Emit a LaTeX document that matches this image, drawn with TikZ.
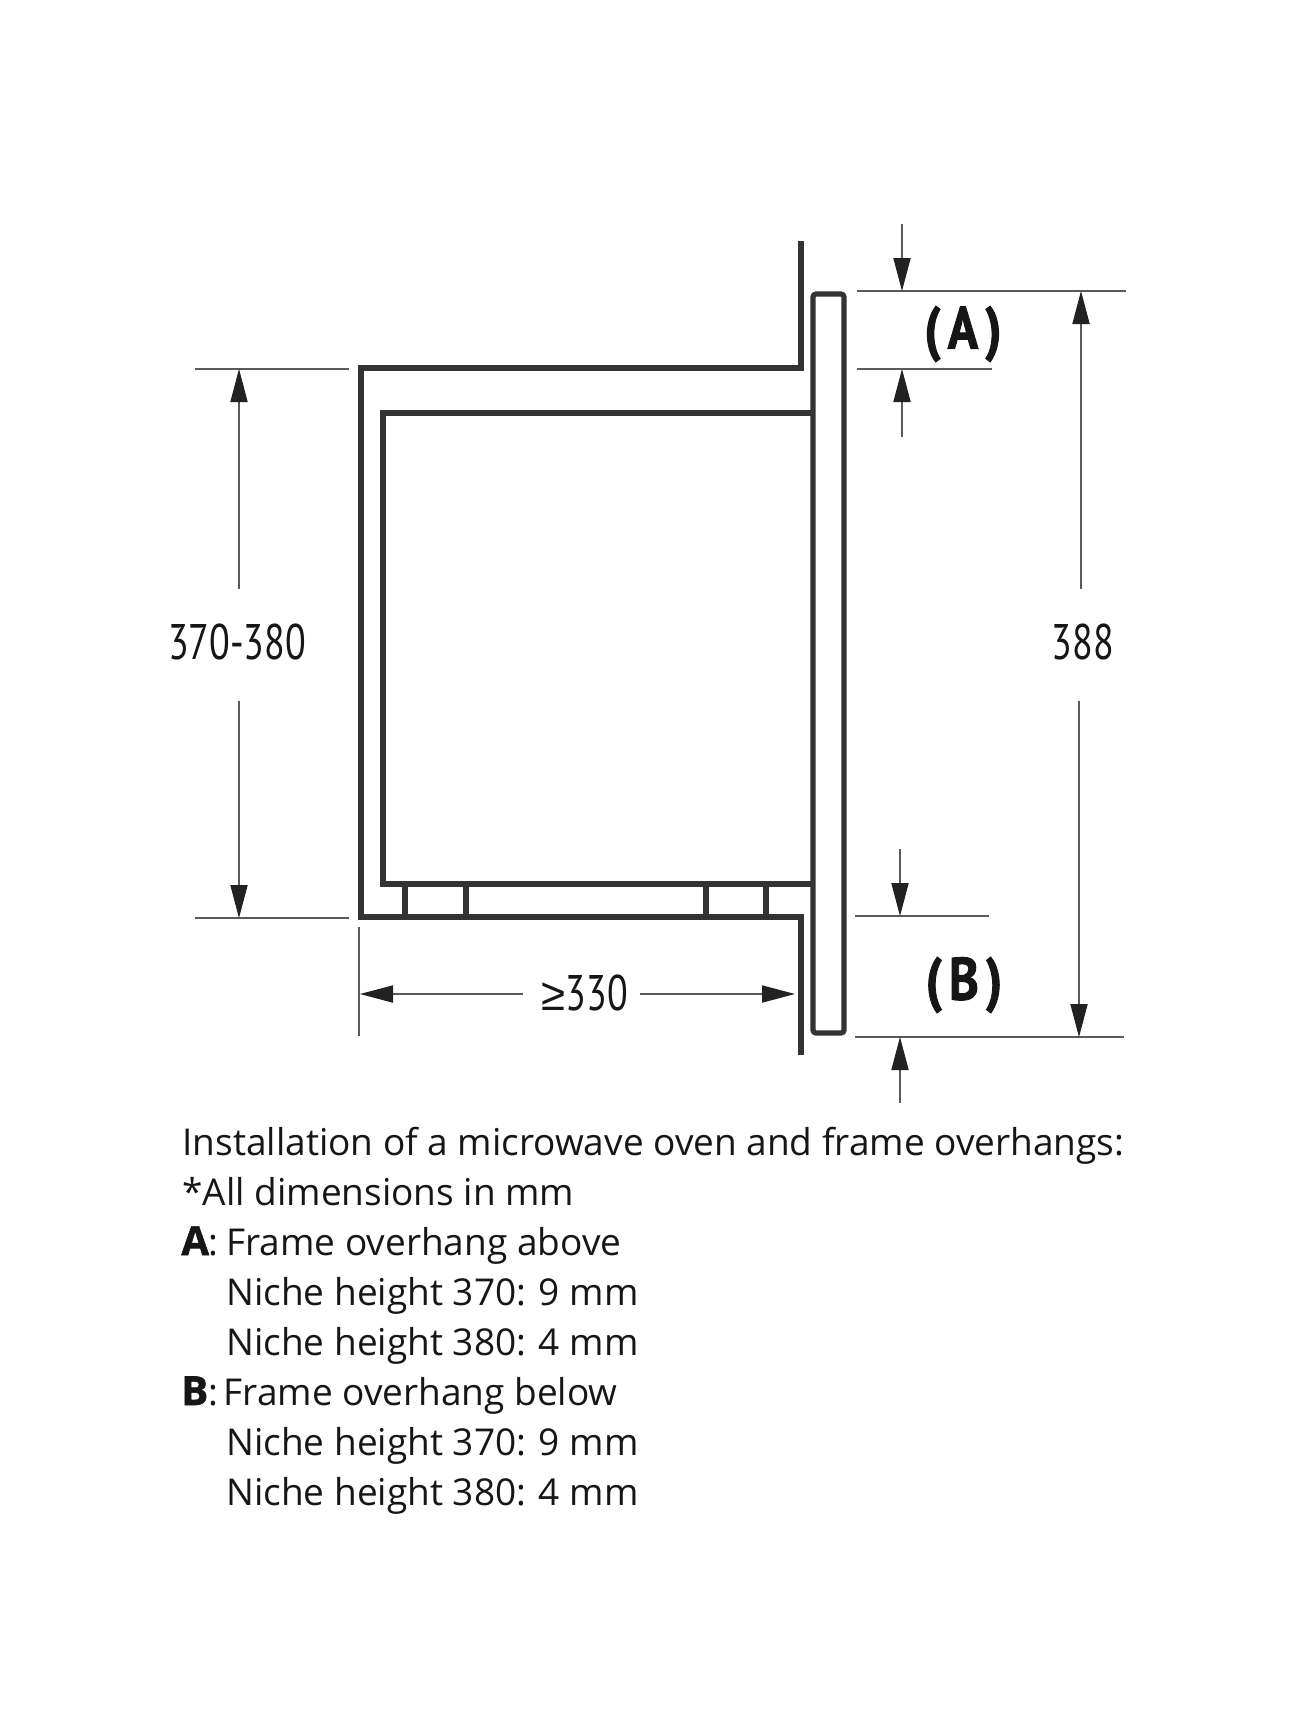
\documentclass[tikz,border=0pt]{standalone}
\usepackage{fontspec}
\usetikzlibrary{arrows.meta}
\setmainfont{Open Sans}
\newfontfamily\dimfont[FakeStretch=0.76]{PT Sans}
\newfontfamily\gefont[FakeStretch=0.95]{Liberation Sans}
\newfontfamily\ovfont[FakeStretch=0.84,FakeBold=1.5]{PT Sans Bold}
\newfontfamily\heavyfont[FakeBold=1.5]{Open Sans Bold}
\definecolor{wallc}{HTML}{333333}
\definecolor{dimc}{HTML}{5A5A5A}
\definecolor{headc}{HTML}{222222}
\definecolor{textc}{HTML}{161616}
\tikzset{
  x=0.5pt,y=-0.5pt,
  wall/.style={draw=wallc,line width=2.6pt,line join=miter},
  extline/.style={draw=dimc,line width=0.55pt},
  dimarrow/.style={draw=dimc,line width=0.55pt,-{Triangle[width=8.6pt,length=16.5pt,fill=headc,color=headc]}},
  dimlabel/.style={font=\dimfont\fontsize{25}{25}\selectfont,text=textc,inner sep=0pt},
  ovlabel/.style={font=\ovfont\fontsize{30}{30}\selectfont,text=textc,inner sep=0pt},
  bodytext/.style={font=\fontsize{18.5}{20}\selectfont,text=textc,inner sep=0pt,anchor=base west},
}
\newcommand{\heavyA}[1]{{\heavyfont\fontsize{20}{20}\selectfont #1}}
\begin{document}
\begin{tikzpicture}
\useasboundingbox[fill=white] (0,0) rectangle (1297,1730);
% walls and niche
\draw[wall] (801,241) -- (801,368) -- (361,368) -- (361,917) -- (801,917) -- (801,1055);
% oven body
\draw[wall] (813,413) -- (383,413) -- (383,884) -- (813,884);
% frame
\draw[wall,rounded corners=1.5pt] (813,294) rectangle (844,1033);
% feet
\foreach \fx in {405,466,706,766} \draw[wall] (\fx,884) -- (\fx,917);

% named free ends of the dimension lines
\coordinate (a1) at (857,291);   \coordinate (a2) at (1126,291);
\coordinate (a3) at (857,369);   \coordinate (a4) at (992,369);
\coordinate (b1) at (855,916);   \coordinate (b2) at (989,916);
\coordinate (b3) at (855,1037);  \coordinate (b4) at (1124,1037);
\coordinate (l1) at (195,369);   \coordinate (l2) at (349,369);
\coordinate (l3) at (195,918);   \coordinate (l4) at (349,918);
\coordinate (w1) at (359,927);   \coordinate (w2) at (359,1036);

\draw[extline] (a1) -- (a2);
\draw[extline] (a3) -- (a4);
\draw[extline] (b1) -- (b2);
\draw[extline] (b3) -- (b4);
\draw[extline] (l1) -- (l2);
\draw[extline] (l3) -- (l4);
\draw[extline] (w1) -- (w2);

% overhang arrows
\coordinate (at) at (902,224);  \coordinate (ate) at (902,291);
\coordinate (ab) at (902,437);  \coordinate (abe) at (902,369);
\coordinate (bt) at (900,849);  \coordinate (bte) at (900,916);
\coordinate (bb) at (900,1103); \coordinate (bbe) at (900,1037);
\draw[dimarrow] (at) -- (ate);
\draw[dimarrow] (ab) -- (abe);
\draw[dimarrow] (bt) -- (bte);
\draw[dimarrow] (bb) -- (bbe);

% labels
\node[dimlabel] (h388) at (1083,642) {388};
\node[dimlabel] (h370) at (237,642) {370-380};
\node[dimlabel] (w330) at (585,993) {{\gefont\fontsize{23}{23}\selectfont ≥}330};
\node[ovlabel] (lA) at (963,334) {(\kern3.5pt A\kern3.5pt)};
\node[ovlabel] (lB) at (964,985) {(\kern3.5pt B\kern3.5pt)};

% 388
\coordinate (r1) at (1081,589); \coordinate (r1e) at (1081,291);
\coordinate (r2) at (1079,701); \coordinate (r2e) at (1079,1037);
\draw[dimarrow] (r1) -- (r1e);
\draw[dimarrow] (r2) -- (r2e);
% 370-380
\coordinate (s1) at (239,589); \coordinate (s1e) at (239,369);
\coordinate (s2) at (239,701); \coordinate (s2e) at (239,918);
\draw[dimarrow] (s1) -- (s1e);
\draw[dimarrow] (s2) -- (s2e);
% 330
\coordinate (t1) at (523,994); \coordinate (t1e) at (360,994);
\coordinate (t2) at (640,994); \coordinate (t2e) at (795,994);
\draw[dimarrow] (t1) -- (t1e);
\draw[dimarrow] (t2) -- (t2e);

% body text
\node[bodytext] (t01) at (182,1155) {Installation of a microwave oven and frame overhangs:};
\node[bodytext] (t02) at (182,1205) {*All dimensions in mm};
\node[bodytext] (t03) at (181,1255) {\heavyA{A}:\kern-1pt\ Frame overhang above};
\node[bodytext] (t04) at (226,1305) {Niche height 370: 9 mm};
\node[bodytext] (t05) at (226,1355) {Niche height 380: 4 mm};
\node[bodytext] (t06) at (181,1405) {\heavyA{B}:\kern-2pt\ Frame overhang below};
\node[bodytext] (t07) at (226,1455) {Niche height 370: 9 mm};
\node[bodytext] (t08) at (226,1505) {Niche height 380: 4 mm};
\end{tikzpicture}
\end{document}
